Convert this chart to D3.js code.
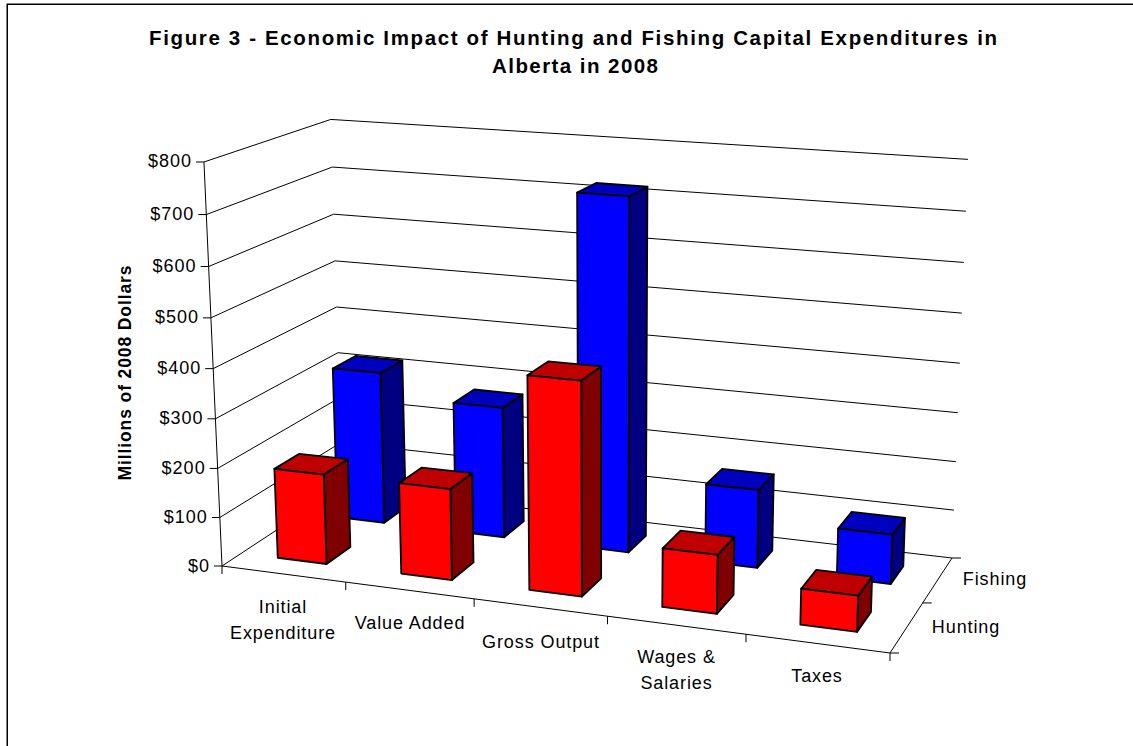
<!DOCTYPE html>
<html><head><meta charset="utf-8">
<script src="https://cdn.jsdelivr.net/npm/d3@7"></script>
<style>html,body{margin:0;padding:0;background:#fff;overflow:hidden}svg{display:block}text{font-family:"Liberation Sans",Arial,sans-serif;fill:#000}</style>
</head><body><svg id="c" width="1133" height="746"></svg>
<script>
const titleLines = ["Figure 3 - Economic Impact of Hunting and Fishing Capital Expenditures in","Alberta in 2008"];
const yTitle = "Millions of 2008 Dollars";
const categories = ["Initial Expenditure","Value Added","Gross Output","Wages & Salaries","Taxes"];
const categoryLines = [["Initial","Expenditure"],["Value Added"],["Gross Output"],["Wages &","Salaries"],["Taxes"]];
const seriesNames = ["Hunting","Fishing"];
const hunting = [184,184,424,116,70];
const fishing = [320,273,721,160,100];
const yTicks = [0,100,200,300,400,500,600,700,800];

// camera: floor quad (FL, FR, BR, BL), vertical vanishing point, height factor
const floorQuad = [[222,566],[890,653],[952,558],[342,487]];
const vanish = [607,9190];
const lambda = -0.04475;

function homography(q){ // unit square -> homogeneous floor point
  const [[x0,y0],[x1,y1],[x2,y2],[x3,y3]] = q;
  const dx1=x1-x2,dx2=x3-x2,sx=x0-x1+x2-x3,dy1=y1-y2,dy2=y3-y2,sy=y0-y1+y2-y3;
  const d=dx1*dy2-dx2*dy1, g=(sx*dy2-dx2*sy)/d, h=(dx1*sy-sx*dy1)/d;
  const a=x1-x0+g*x1,b=x3-x0+h*x3,e=y1-y0+g*y1,f=y3-y0+h*y3;
  return (u,v)=>[a*u+b*v+x0,e*u+f*v+y0,g*u+h*v+1];
}
const floorH=homography(floorQuad);
const xScale=d3.scaleLinear().domain([0,categories.length]).range([0,1]);
const zScale=d3.scaleLinear().domain([0,seriesNames.length]).range([0,1]);
const yScale=d3.scaleLinear().domain([0,800]).range([0,lambda]);
function P(cat,ser,val){
  const [X,Y,W]=floorH(xScale(cat),zScale(ser)), l=yScale(val), w=W+l;
  return [(X+l*vanish[0])/w,(Y+l*vanish[1])/w];
}
const svg=d3.select("#c");
// chart frame: top and left edges are inside the picture, the others run off it
svg.append("rect").attr("x",7.25).attr("y",4.25).attr("width",1200).attr("height",800).attr("fill","#fff").attr("stroke","#000").attr("stroke-width",1.5);

const line=(a,b,sw=1,col="#000")=>svg.append("line").attr("x1",a[0]).attr("y1",a[1]).attr("x2",b[0]).attr("y2",b[1]).attr("stroke",col).attr("stroke-width",sw);
const nC=categories.length,nS=seriesNames.length;

yTicks.forEach(v=>{
  const pFL=P(0,0,v),pBL=P(0,nS,v),pBR=P(nC,nS,v);
  svg.append("path").attr("d",d3.line()([pFL,pBL,pBR])).attr("fill","none").attr("stroke","#000").attr("stroke-width",1);
  line([pFL[0]-8,pFL[1]],pFL);
  svg.append("text").attr("x",pFL[0]-12).attr("y",pFL[1]+5.5).attr("text-anchor","end").attr("font-size",18).style("letter-spacing","1px").text(d3.format("$,")(v));
});
line(P(0,0,0),P(0,0,800));
line(P(0,0,0),P(nC,0,0));
line(P(nC,0,0),P(nC,nS,0));
d3.range(nC+1).forEach(i=>{const p=P(i,0,0);line(p,[p[0],p[1]+8]);});
d3.range(nS+1).forEach(i=>{const p=P(nC,i,0);line(p,[p[0]+9,p[1]]);});

const gap=1.5, wFrac=1/(1+gap), off=(1-wFrac)/2;
const colors=[{f:"#ff0000",t:"#bf0000",s:"#800000"},{f:"#0000ff",t:"#0000bf",s:"#000080"}];
const seriesValues=[hunting,fishing];
const poly=(pts,fill)=>svg.append("path").attr("d",d3.line()(pts)+"Z").attr("fill",fill).attr("stroke","#000").attr("stroke-width",1.8).attr("stroke-linejoin","round");
[1,0].forEach(s=>{
  d3.range(nC).forEach(c=>{
    const v=seriesValues[s][c],x0=c+off,x1=c+1-off,z0=s+off,z1=s+1-off,col=colors[s];
    poly([P(x1,z0,0),P(x1,z1,0),P(x1,z1,v),P(x1,z0,v)],col.s);
    poly([P(x0,z0,v),P(x1,z0,v),P(x1,z1,v),P(x0,z1,v)],col.t);
    poly([P(x0,z0,0),P(x1,z0,0),P(x1,z0,v),P(x0,z0,v)],col.f);
  });
});

const titleX=[573,575],titleLen=[848,166];
titleLines.forEach((t,i)=>svg.append("text").attr("x",titleX[i]).attr("y",45+i*28).attr("text-anchor","middle").attr("font-size",20.5).attr("font-weight","bold").attr("textLength",titleLen[i]).attr("lengthAdjust","spacing").text(t));
svg.append("text").attr("transform","translate(131,373) rotate(-90)").attr("text-anchor","middle").attr("font-size",17.5).attr("font-weight","bold").attr("textLength",215).attr("lengthAdjust","spacing").text(yTitle);
const catX=[283,410,541,676.5,817],catY=[613,629,648,663,682];
const ls="0.9px";
categoryLines.forEach((l2,i)=>l2.forEach((t,j)=>svg.append("text").attr("x",catX[i]).attr("y",catY[i]+j*26).attr("text-anchor","middle").attr("font-size",18).style("letter-spacing",ls).text(t)));
svg.append("text").attr("x",995).attr("y",585).attr("text-anchor","middle").attr("font-size",18).style("letter-spacing",ls).text(seriesNames[1]);
svg.append("text").attr("x",966).attr("y",633).attr("text-anchor","middle").attr("font-size",18).style("letter-spacing",ls).text(seriesNames[0]);
</script></body></html>
